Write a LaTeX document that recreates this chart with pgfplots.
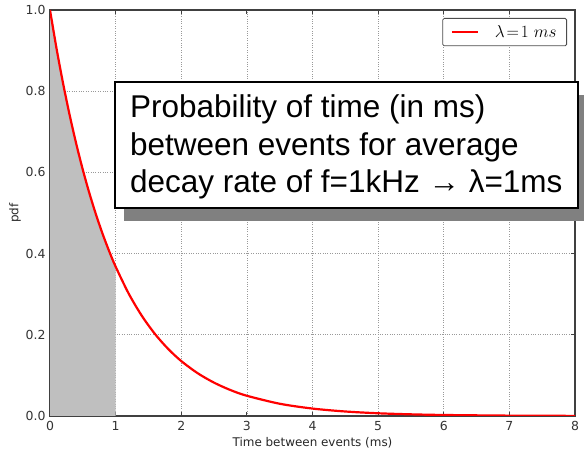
\documentclass[border=0pt]{standalone}
\usepackage{fontspec}
\setmainfont{DejaVu Sans}
\newfontfamily\lib{Liberation Sans}
\usepackage{pgfplots}
\pgfplotsset{compat=1.18}
\begin{document}
\begin{tikzpicture}[x=1bp,y=1bp]
\useasboundingbox (0,0) rectangle (584,453);
\begin{axis}[
  at={(50bp,37bp)}, anchor=south west,
  scale only axis, width=525bp, height=406bp,
  xmin=0, xmax=8, ymin=0, ymax=1,
  xtick={0,1,2,3,4,5,6,7,8},
  ytick={0,0.2,0.4,0.6,0.8,1.0},
  yticklabel style={/pgf/number format/fixed, /pgf/number format/fixed zerofill, /pgf/number format/precision=1, xshift=-1bp},
  xticklabel style={yshift=-2bp},
  /pgf/number format/assume math mode=true,
  ticklabel style={font=\fontsize{12.5}{14}\selectfont, text=black!80},
  grid=major,
  grid style={dotted, gray!80, line width=0.7bp},
  axis line style={black!75, line width=1.2bp},
  tick align=inside, tick pos=both,
  major tick length=4bp,
  tick style={black!75, line width=0.8bp},
  xlabel={Time between events (ms)},
  ylabel={pdf},
  label style={font=\fontsize{12}{14}\selectfont, text=black!85},
  xlabel style={yshift=0bp},
  ylabel style={yshift=-2bp},
  legend style={at={(1,1)}, xshift=-8bp, yshift=-8bp, anchor=north east,
    draw=black!70, line width=0.8bp, rounded corners=1.5bp,
    font=\fontsize{16}{18}\selectfont, inner xsep=8bp, inner ysep=5bp},
  legend image code/.code={\draw[#1] (0bp,0bp) -- (26bp,0bp);},
]
\addplot[fill=gray!50, draw=none, forget plot] coordinates {
(0,0) (0,1) (0.1,0.9048) (0.2,0.8187) (0.3,0.7408) (0.4,0.6703) (0.5,0.6065)
(0.6,0.5488) (0.7,0.4966) (0.8,0.4493) (0.9,0.4066) (1.0,0.3679) (1.0,0)
} -- cycle;
\addplot[red, line width=2.2bp, smooth] coordinates {
(0,1) (0.1,0.9048) (0.2,0.8187) (0.3,0.7408) (0.4,0.6703) (0.5,0.6065)
(0.6,0.5488) (0.7,0.4966) (0.8,0.4493) (0.9,0.4066) (1.0,0.3679)
(1.2,0.3012) (1.4,0.2466) (1.6,0.2019) (1.8,0.1653) (2.0,0.1353)
(2.25,0.1054) (2.5,0.0821) (2.75,0.0639) (3.0,0.0498) (3.5,0.0302)
(4.0,0.0183) (4.5,0.0111) (5.0,0.0067) (5.5,0.0041) (6.0,0.0025)
(7.0,0.0009) (8.0,0.0003)
};
\addlegendentry{\hspace{14bp}$\lambda\!=\!1\ ms$}
\end{axis}
\fill[black!50] (124,232) rectangle (590,358);
\draw[line width=2bp, fill=white] (115,245) rectangle (578,371);
\begin{scope}[every node/.style={anchor=base west, inner sep=0pt, font=\lib\fontsize{31.6}{36}\selectfont}]
\node at (130,335) {Probability of time (in ms)};
\node at (130,297.5) {between events for average};
\node at (130,260) {decay rate of f=1kHz → λ=1ms};
\end{scope}
\end{tikzpicture}
\end{document}
